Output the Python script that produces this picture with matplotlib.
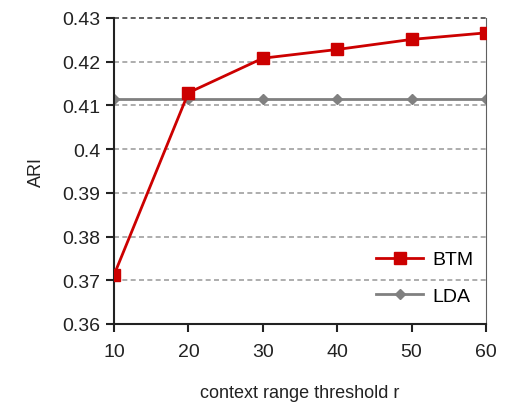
import numpy as np
import matplotlib.pyplot as plt

plt.rcParams['font.family'] = ['Liberation Sans', 'DejaVu Sans']

r = [10, 20, 30, 40, 50, 60]
btm = [0.3712, 0.4129, 0.4208, 0.4228, 0.4251, 0.4266]
lda = [0.4115, 0.4115, 0.4115, 0.4115, 0.4115, 0.4115]
yticks = [0.36, 0.37, 0.38, 0.39, 0.40, 0.41, 0.42, 0.43]
ytick_labels = ['0.36', '0.37', '0.38', '0.39', '0.4', '0.41', '0.42', '0.43']

fig = plt.figure(figsize=(5.07, 4.06), dpi=100)
ax = fig.add_axes([114 / 507, 1 - 325 / 406, 372 / 507, 306 / 406])

for y in yticks[1:-1]:
    ax.axhline(y, color='#a0a0a0', lw=1.2, ls=(0, (3, 2)), zorder=0)
ax.axhline(0.43, color='#444444', lw=1.2, ls=(0, (3, 2)), zorder=0, clip_on=False)

ax.plot(r, lda, color='#808080', lw=2, marker='D', ms=5, label='LDA', zorder=2)
ax.plot(r, btm, color='#cc0000', lw=2, marker='s', ms=8, label='BTM', zorder=3)

ax.set_xlim(10, 60)
ax.set_ylim(0.36, 0.43)
ax.set_xticks(r)
ax.set_yticks(yticks)
ax.set_yticklabels(ytick_labels)
ax.tick_params(direction='out', length=6, width=1.5, labelsize=14, colors='#222222')
ax.tick_params(axis='x', pad=8)
ax.tick_params(axis='y', pad=4)

ax.spines['top'].set_visible(False)
ax.spines['right'].set_color('#606060')
ax.spines['left'].set_linewidth(1.5)
ax.spines['bottom'].set_linewidth(1.5)
ax.spines['left'].set_color('#222222')
ax.spines['bottom'].set_color('#222222')

ax.set_ylabel('ARI', fontsize=13, labelpad=12, color='#222222')
ax.set_xlabel('context range threshold r', fontsize=13, labelpad=17, color='#222222')

handles, labels = ax.get_legend_handles_labels()
ax.legend(handles[::-1], labels[::-1], loc='lower right', bbox_to_anchor=(1.02, 0),
          frameon=False, fontsize=14, handlelength=2.4, handletextpad=0.5,
          borderaxespad=0.6, labelspacing=0.95)

fig.savefig('out.png', dpi=100)
